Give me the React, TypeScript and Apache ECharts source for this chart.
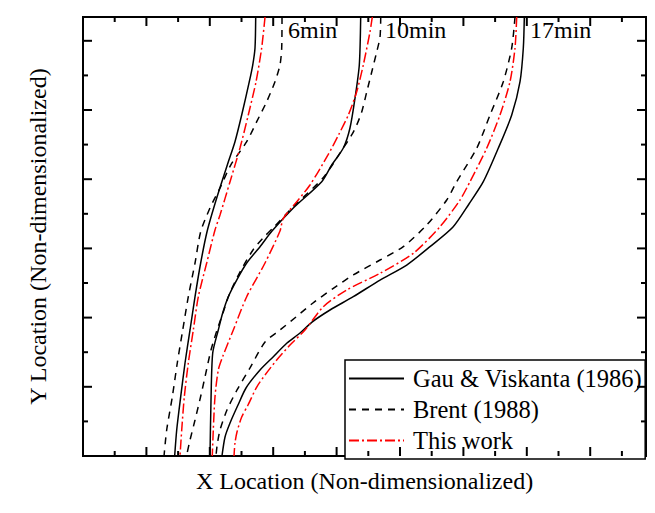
import React, { useEffect, useRef } from "react";
import * as echarts from "echarts";

// Axis extents (non-dimensional units, unlabeled axes)
const X_MAX = 8.88;
const Y_MAX = 6.344;

// tick positions (major on integers, minor on halves)
const X_TICKS = [0.5, 1, 1.5, 2, 2.5, 3, 3.5, 4, 4.5, 5, 5.5, 6, 6.5, 7, 7.5, 8, 8.5];
const Y_TICKS = [0.5, 1, 1.5, 2, 2.5, 3, 3.5, 4, 4.5, 5, 5.5, 6];

const SERIES_NAMES = ["Gau & Viskanta (1986)", "Brent (1988)", "This work"];
const TIME_LABELS = ["6min", "10min", "17min"];

// 6 min
const gau6: [number, number][] = [
  [2.724, 6.344], [2.713, 5.896], [2.677, 5.65], [2.623, 5.409], [2.503, 4.928],
  [2.397, 4.542], [2.276, 4.205], [2.109, 3.728], [1.959, 3.251], [1.856, 2.789],
  [1.767, 2.302], [1.688, 1.821], [1.609, 1.344], [1.541, 0.857], [1.478, 0.376], [1.446, 0],
];
const brent6: [number, number][] = [
  [3.139, 6.344], [3.134, 5.896], [3.107, 5.65], [3.028, 5.409], [2.897, 5.12],
  [2.74, 4.831], [2.582, 4.542], [2.33, 4.205], [2.161, 3.873], [2.003, 3.584],
  [1.856, 3.241], [1.767, 2.789], [1.661, 2.302], [1.573, 1.821], [1.487, 1.344],
  [1.409, 0.857], [1.32, 0.376], [1.278, 0],
];
const work6: [number, number][] = [
  [2.871, 6.344], [2.818, 5.896], [2.729, 5.409], [2.607, 4.928], [2.476, 4.451],
  [2.319, 3.964], [2.161, 3.483], [2.082, 3.266], [1.951, 2.789], [1.819, 2.302],
  [1.74, 1.821], [1.661, 1.344], [1.598, 0.857], [1.557, 0.376], [1.53, 0],
];

// 10 min
const gau10: [number, number][] = [
  [4.38, 6.344], [4.358, 5.65], [4.29, 5.169], [4.211, 4.74], [4.106, 4.451],
  [3.923, 4.205], [3.765, 3.964], [3.317, 3.584], [2.981, 3.251], [2.792, 3.025],
  [2.582, 2.789], [2.424, 2.543], [2.292, 2.302], [2.203, 2.066], [2.134, 1.821],
  [2.046, 1.488], [2.019, 0.809], [2.003, 0],
];
const brent10: [number, number][] = [
  [4.696, 6.344], [4.685, 6.055], [4.632, 5.838], [4.554, 5.549], [4.475, 5.26],
  [4.396, 4.971], [4.317, 4.783], [4.238, 4.639], [4.085, 4.422], [3.785, 4.017],
  [3.312, 3.598], [2.997, 3.295], [2.839, 3.15], [2.681, 2.977], [2.476, 2.659],
  [2.303, 2.327], [2.208, 2.066], [2.114, 1.821], [2.019, 1.532], [1.948, 1.243],
  [1.861, 0.881], [1.767, 0.52], [1.688, 0.231], [1.632, 0],
];
const work10: [number, number][] = [
  [4.563, 6.344], [4.527, 6.131], [4.421, 5.65], [4.317, 5.264], [4.185, 4.928],
  [4.038, 4.653], [3.864, 4.35], [3.58, 3.916], [3.371, 3.675], [3.159, 3.435],
  [3.107, 3.251], [2.871, 2.789], [2.582, 2.302], [2.371, 1.821], [2.203, 1.435],
  [2.134, 1.243], [2.082, 0.857], [2.055, 0.376], [2.039, 0],
];

// 17 min
const gau17: [number, number][] = [
  [6.961, 6.344], [6.945, 5.896], [6.893, 5.409], [6.762, 4.928], [6.55, 4.447],
  [6.314, 3.964], [6.088, 3.642], [5.836, 3.309], [5.473, 3.025], [5.106, 2.76],
  [4.685, 2.543], [4.263, 2.302], [3.896, 2.11], [3.612, 1.936], [3.423, 1.777],
  [3.213, 1.629], [3.002, 1.435], [2.792, 1.243], [2.571, 0.983], [2.445, 0.737],
  [2.319, 0.477], [2.24, 0.275], [2.192, 0],
];
const brent17: [number, number][] = [
  [6.814, 6.344], [6.762, 5.896], [6.629, 5.409], [6.42, 4.928], [6.21, 4.447],
  [5.894, 3.964], [5.737, 3.699], [5.421, 3.338], [5.052, 3.025], [4.685, 2.832],
  [4.263, 2.616], [3.948, 2.423], [3.628, 2.211], [3.36, 2.009], [3.107, 1.821],
  [2.871, 1.647], [2.634, 1.272], [2.429, 0.954], [2.271, 0.665], [2.161, 0.376],
  [2.114, 0.145], [2.098, 0],
];
const work17: [number, number][] = [
  [6.841, 6.344], [6.814, 5.896], [6.735, 5.409], [6.577, 4.928], [6.367, 4.447],
  [6.104, 3.964], [5.946, 3.699], [5.631, 3.314], [5.21, 2.929], [4.685, 2.64],
  [4.159, 2.399], [3.79, 2.158], [3.502, 1.821], [3.265, 1.604], [3.055, 1.387],
  [2.871, 1.171], [2.74, 0.997], [2.603, 0.737], [2.503, 0.564], [2.429, 0.347],
  [2.397, 0.188], [2.382, 0],
];

const FONT = '"Liberation Serif", "Times New Roman", serif';

export default function App() {
  const ref = useRef<HTMLDivElement>(null);

  useEffect(() => {
    if (!ref.current) return;
    const chart = echarts.init(ref.current, undefined, { renderer: "svg" });

    const solid = { color: "#000", width: 1.5, type: "solid" as any };
    const dashed = { color: "#000", width: 1.5, type: [7, 6] as any };
    const dashDot = { color: "#ff0000", width: 1.5, type: [10, 3, 2, 3] as any };

    const mk = (name: string, data: [number, number][], ls: any) => ({
      name,
      type: "line",
      data,
      symbol: "none",
      showSymbol: false,
      smooth: 0.25,
      lineStyle: ls,
      itemStyle: { color: ls.color },
      emphasis: { disabled: true },
    });

    const isMajor = (v: number) => Math.abs(v - Math.round(v)) < 1e-6;

    // one data item per tick and side: [xValue, yValue, major(1/0), side]
    // side: 0 bottom, 1 top, 2 left, 3 right
    const tickData: number[][] = [];
    X_TICKS.forEach((v) => {
      tickData.push([v, 0, isMajor(v) ? 1 : 0, 0]);
      tickData.push([v, Y_MAX, isMajor(v) ? 1 : 0, 1]);
    });
    Y_TICKS.forEach((v) => {
      tickData.push([0, v, isMajor(v) ? 1 : 0, 2]);
      tickData.push([X_MAX, v, isMajor(v) ? 1 : 0, 3]);
    });

    const tickSeries = {
      type: "custom",
      silent: true,
      clip: false,
      z: 10,
      data: tickData,
      encode: { x: 0, y: 1 },
      renderItem: (_p: any, api: any) => {
        const p = api.coord([api.value(0), api.value(1)]);
        const len = api.value(2) ? 9 : 5;
        const side = api.value(3);
        let x2 = p[0];
        let y2 = p[1];
        if (side === 0) y2 = p[1] - len;
        else if (side === 1) y2 = p[1] + len;
        else if (side === 2) x2 = p[0] + len;
        else x2 = p[0] - len;
        return {
          type: "line",
          shape: { x1: p[0], y1: p[1], x2, y2 },
          style: { stroke: "#000", lineWidth: 2, fill: null },
        };
      },
    };

    const nameStyle = { fontFamily: FONT, fontSize: 24, color: "#000" };

    chart.setOption({
      animation: false,
      backgroundColor: "#fff",
      grid: {
        left: 83,
        right: 9,
        top: 17,
        bottom: 57,
        show: true,
        borderColor: "#000",
        borderWidth: 2,
        backgroundColor: "transparent",
      },
      xAxis: {
        type: "value",
        min: 0,
        max: X_MAX,
        axisLine: { show: false, onZero: false },
        axisTick: { show: false },
        axisLabel: { show: false },
        splitLine: { show: false },
        name: "X Location (Non-dimensionalized)",
        nameLocation: "middle",
        nameGap: 13,
        nameTextStyle: nameStyle,
      },
      yAxis: {
        type: "value",
        min: 0,
        max: Y_MAX,
        axisLine: { show: false, onZero: false },
        axisTick: { show: false },
        axisLabel: { show: false },
        splitLine: { show: false },
        name: "Y Location (Non-dimensionalized)",
        nameLocation: "middle",
        nameGap: 33,
        nameTextStyle: nameStyle,
      },
      legend: {
        data: SERIES_NAMES,
        orient: "vertical",
        left: 345,
        top: 360,
        itemWidth: 55,
        itemHeight: 14,
        itemGap: 6,
        padding: [6, 3, 6, 3],
        borderColor: "#000",
        borderWidth: 1.5,
        backgroundColor: "#fff",
        selectedMode: false,
        itemStyle: { opacity: 0, borderWidth: 0 },
        textStyle: { fontFamily: FONT, fontSize: 24.5, color: "#000", padding: [0, 0, 0, 4] },
      },
      graphic: [
        { type: "text", left: 288, top: 18, style: { text: TIME_LABELS[0], font: `24px ${FONT}`, fill: "#000" } },
        { type: "text", left: 385, top: 18, style: { text: TIME_LABELS[1], font: `24px ${FONT}`, fill: "#000" } },
        { type: "text", left: 530, top: 18, style: { text: TIME_LABELS[2], font: `24px ${FONT}`, fill: "#000" } },
      ],
      series: [
        mk(SERIES_NAMES[0], gau6, solid),
        mk(SERIES_NAMES[1], brent6, dashed),
        mk(SERIES_NAMES[2], work6, dashDot),
        mk(SERIES_NAMES[0], gau10, solid),
        mk(SERIES_NAMES[1], brent10, dashed),
        mk(SERIES_NAMES[2], work10, dashDot),
        mk(SERIES_NAMES[0], gau17, solid),
        mk(SERIES_NAMES[1], brent17, dashed),
        mk(SERIES_NAMES[2], work17, dashDot),
        tickSeries,
      ],
    });

    return () => chart.dispose();
  }, []);

  return <div ref={ref} style={{ width: 655, height: 513, position: "absolute", left: 0, top: 0 }} />;
}
